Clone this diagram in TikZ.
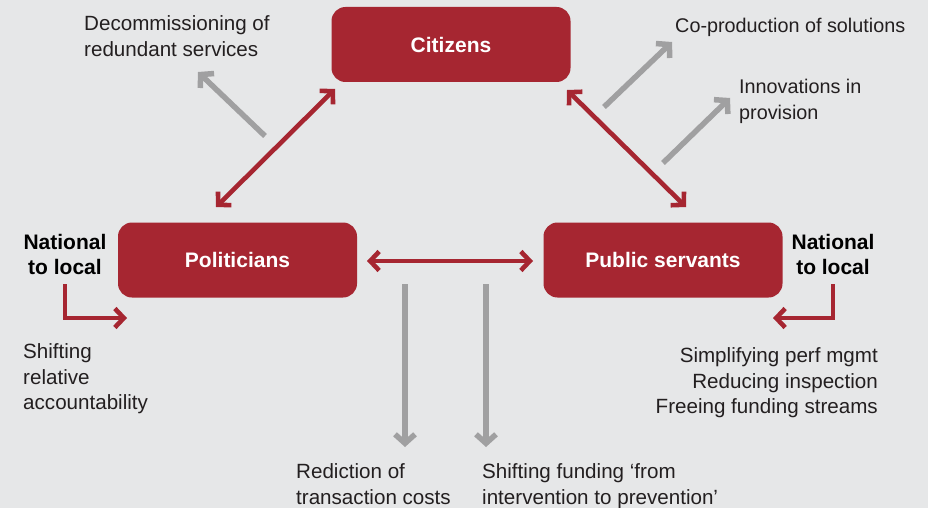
\documentclass[tikz,border=0pt]{standalone}
\usepackage{fontspec}
\setmainfont{Liberation Sans}
\usetikzlibrary{arrows.meta}
\definecolor{bgc}{HTML}{E6E7E8}
\definecolor{redc}{HTML}{A62631}
\definecolor{grayc}{HTML}{A0A0A1}
\definecolor{txtc}{HTML}{231F20}
\tikzset{
  box/.style={fill=redc, rounded corners=14pt, minimum width=239pt, minimum height=75pt, inner sep=0pt,
    text=white, font=\fontsize{21}{25}\selectfont\bfseries},
  redarrow/.style={draw=redc, line width=4.6pt, {Straight Barb[length=9pt,width=19pt]}-{Straight Barb[length=9pt,width=19pt]}},
  redone/.style={draw=redc, line width=4.6pt, -{Straight Barb[length=9pt,width=19pt]}},
  grayarrow/.style={draw=grayc, line width=5.5pt, -{Straight Barb[length=9pt,width=20pt]}},
  lbl/.style={inner sep=0pt, text=txtc, font=\fontsize{20.6}{25.5}\selectfont},
  lblsmall/.style={lbl, font=\fontsize{19.8}{25.5}\selectfont},
  blbl/.style={inner sep=0pt, text=black, align=center, font=\fontsize{21}{25}\selectfont\bfseries},
}
\begin{document}
\begin{tikzpicture}[x=1pt,y=-1pt]
\fill[bgc] (0,0) rectangle (928,508);
\useasboundingbox (0,0) rectangle (928,508);

\node[box] (cit) at (451,44.5) {Citizens};
\node[box] (pol) at (237.5,260) {Politicians};
\node[box] (pub) at (663,260) {Public servants};

% red connectors
\coordinate (pc1) at (216,207);
\coordinate (pc2) at (335,89);
\coordinate (cp1) at (567,90);
\coordinate (cp2) at (686,207);
\coordinate (pp1) at (367,261);
\coordinate (pp2) at (533,261);
\draw[redarrow] (pc1) -- (pc2);
\draw[redarrow] (cp1) -- (cp2);
\draw[redarrow] (pp1) -- (pp2);

% national to local labels
\node[blbl, anchor=north] (nl1) at (65,234) {National\\to local};
\node[blbl, anchor=north] (nl2) at (833,234) {National\\to local};
\coordinate (e1a) at (65,284);
\coordinate (e1b) at (127,318);
\coordinate (e2a) at (833,284);
\coordinate (e2b) at (773,318);
\draw[redone] (e1a) |- (e1b);
\draw[redone] (e2a) |- (e2b);

% gray arrows
\coordinate (g1a) at (265,136);
\coordinate (g1b) at (198,72);
\coordinate (g2a) at (604,107);
\coordinate (g2b) at (672,42);
\coordinate (g3a) at (663,163);
\coordinate (g3b) at (730,98);
\coordinate (g4a) at (405,284);
\coordinate (g4b) at (405,447);
\coordinate (g5a) at (486,284);
\coordinate (g5b) at (486,447);
\draw[grayarrow] (g1a) -- (g1b);
\draw[grayarrow] (g2a) -- (g2b);
\draw[grayarrow] (g3a) -- (g3b);
\draw[grayarrow] (g4a) -- (g4b);
\draw[grayarrow] (g5a) -- (g5b);

% texts
\node[lbl, anchor=north west, align=left] (t1) at (84,15.5) {Decommissioning of\\redundant services};
\node[lblsmall, anchor=north west, align=left] (t2) at (675,18) {Co-production of solutions};
\node[lblsmall, anchor=north west, align=left] (t3) at (739,79) {Innovations in\\provision};
\node[lbl, anchor=north west, align=left] (t4) at (23,343.5) {Shifting\\relative\\accountability};
\node[lbl, anchor=north east, align=right] (t5) at (878,347.5) {Simplifying perf mgmt\\Reducing inspection\\Freeing funding streams};
\node[lbl, anchor=north west, align=left] (t6) at (296,463.5) {Rediction of\\transaction costs};
\node[lbl, anchor=north west, align=left] (t7) at (482,463.5) {Shifting funding ‘from\\intervention to prevention’};
\end{tikzpicture}
\end{document}
